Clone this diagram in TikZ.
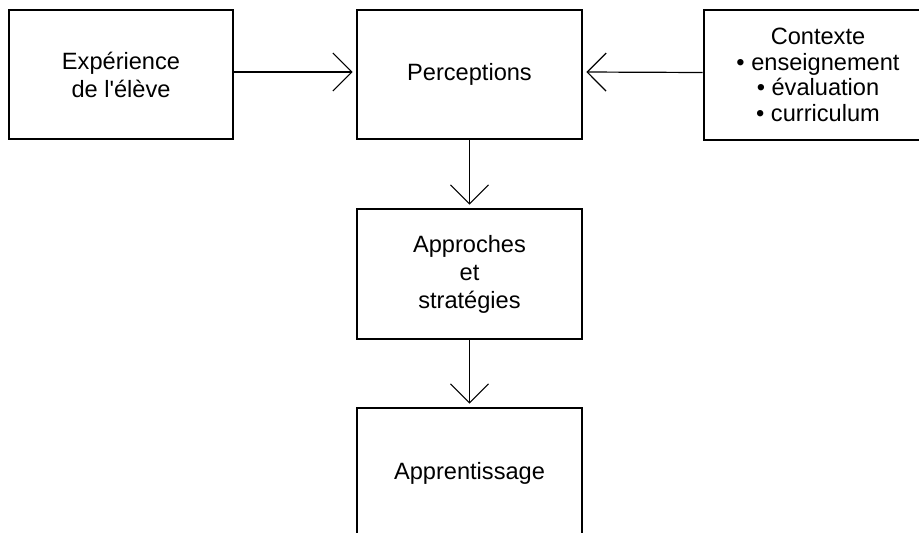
\documentclass[tikz,border=0pt]{standalone}
\usepackage{fontspec}
\setmainfont{Liberation Sans}
\usetikzlibrary{arrows.meta}
\begin{document}
\begin{tikzpicture}[x=1pt,y=-1pt,
  box/.style={draw=black, line width=2.6pt, rectangle, align=center, inner sep=0pt,
    font=\fontsize{23.6}{28}\selectfont},
  conn/.style={line width=1.2pt, -{Straight Barb[length=19pt,width=38pt,line width=1.2pt]}, shorten >=3pt}]
\useasboundingbox (0,0) rectangle (919,533);
\clip (0,0) rectangle (919,533);
\fill[white] (0,0) rectangle (919,533);
\node[box, minimum width=224pt, minimum height=129pt] (exp) at (121,74.5) {Expérience\\de l\textquotesingle élève};
\node[box, minimum width=225pt, minimum height=129pt] (perc) at (469.5,74.5) {Perceptions};
\node[box, minimum width=228pt, minimum height=130pt, font=\fontsize{23.6}{25.7}\selectfont] (ctx) at (818,75) {Contexte\\• enseignement\\• évaluation\\• curriculum};
\node[box, minimum width=225pt, minimum height=130pt] (appr) at (469.5,274) {Approches\\et\\stratégies};
\node[box, minimum width=225pt, minimum height=130pt] (learn) at (469.5,473) {Apprentissage};
\draw[conn] ([yshift=2.5pt]exp.east) -- ([yshift=2.5pt]perc.west);
\draw[conn] ([yshift=2.5pt]ctx.west) -- ([yshift=2.5pt]perc.east);
\draw[conn] (perc.south) -- (appr.north);
\draw[conn] (appr.south) -- (learn.north);
\end{tikzpicture}
\end{document}
